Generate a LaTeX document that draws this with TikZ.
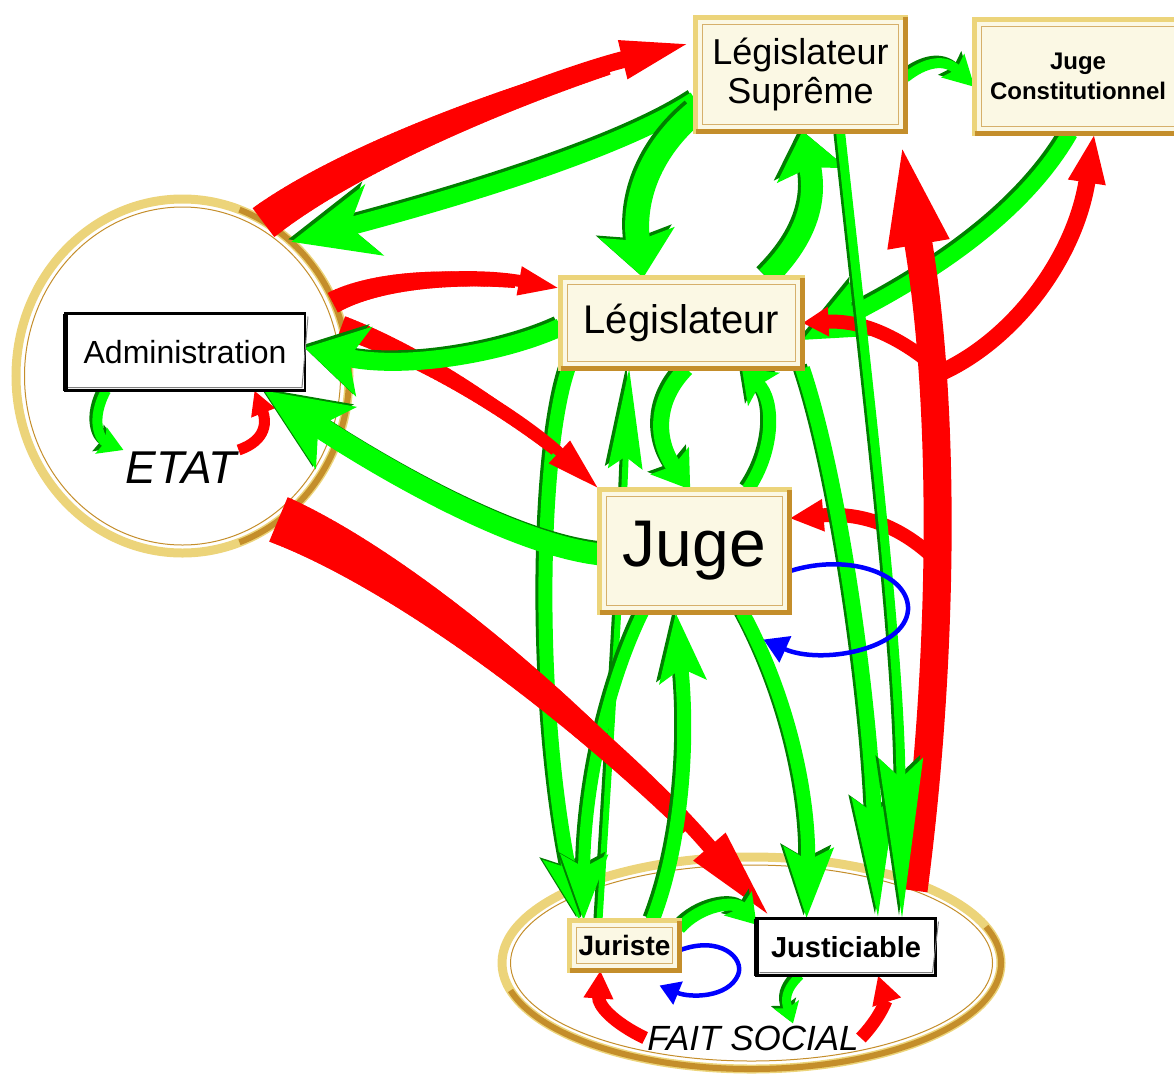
\documentclass[tikz,border=0pt]{standalone}
\usepackage{fontspec}
\setmainfont{Liberation Sans}
\usetikzlibrary{arrows.meta, calc, shapes.geometric, decorations.markings}
\pgfdeclarelayer{fond}
\pgfdeclarelayer{fleches}
\pgfsetlayers{fond,fleches,main}

\begin{document}
\begin{tikzpicture}[x=1pt, y=-1pt]
        % couleurs
        \colorlet{rouge}{red}
        \colorlet{vert}{green}
        \colorlet{vertfonce}{green!50!black}
        \colorlet{bleu}{blue}
        \definecolor{orclair}{RGB}{236,212,122}
        \definecolor{ordonce}{RGB}{196,142,43}
        \definecolor{creme}{RGB}{251,248,228}

        % styles communs
        \tikzset{
            cadre/.style={rectangle, fill=creme, draw=orclair, line width=5pt, outer sep=0pt, inner sep=0pt, align=center},
            cadrenoir/.style={rectangle, fill=white, draw=black, line width=2.5pt, outer sep=0pt, inner sep=0pt},
            anneau/.style={ellipse, draw=orclair, line width=9pt, outer sep=0pt},
            biseau/.style={draw=ordonce, line width=5pt},
            filet/.style={draw=ordonce!70, line width=1pt},
            fr/.style={draw=rouge, line width=#1, -{Triangle[length=0pt 3.2, width=0pt 2]}},
            fv/.style={draw=vert, line width=#1, preaction={draw=vertfonce, line width=#1, transform canvas={shift={(-3pt,2.5pt)}}}, -{Stealth[length=0pt 4, width=0pt 3.2, inset=0pt 1]}},
            fb/.style={draw=bleu, line width=4.5pt, -{Triangle[length=24pt, width=28pt]}},
            % queue evasee : largeur de depart, largeur du trait
            evase/.style 2 args={postaction={decorate, decoration={markings,
                mark=between positions 0 and 0.8 step 1.5pt with {
                    \pgfmathsetmacro{\fract}{\pgfkeysvalueof{/pgf/decoration/mark info/distance from start}/\pgfdecoratedpathlength}
                    \pgfmathsetmacro{\rayon}{#2/2+(#1-#2)/2*max(0,1-\fract/0.8)}
                    \fill[rouge] (-1.2pt,-\rayon pt) rectangle (1.2pt,\rayon pt);
                }}}}
        }

        \useasboundingbox (0,0) rectangle (1174,1082);

        % --- les deux anneaux (ETAT, FAIT SOCIAL) ---
        \begin{pgfonlayer}{fond}
            \node[anneau, minimum width=333pt, minimum height=354pt] (etatcercle) at (182.5,376) {};
            \draw[ordonce, line width=6pt] ([shift={(-70:166.5pt and 177pt)}]etatcercle.center) arc[start angle=-70, end angle=70, x radius=166.5pt, y radius=177pt];
            \draw[ordonce, line width=1pt] (etatcercle.center) ellipse [x radius=158pt, y radius=169pt];

            \node[anneau, minimum width=499pt, minimum height=212pt] (faitcercle) at (751.5,963) {};
            \draw[ordonce, line width=6pt] ([shift={(-165:249.5pt and 106pt)}]faitcercle.center) arc[start angle=-165, end angle=20, x radius=249.5pt, y radius=106pt];
            \draw[ordonce, line width=1pt] (faitcercle.center) ellipse [x radius=241pt, y radius=98pt];
        \end{pgfonlayer}

        % --- les cadres ---
        \node[cadre, minimum width=210pt, minimum height=114pt, font=\fontsize{36}{39}\selectfont] (sup) at (800.5,74) {Législateur\\Suprême};
        \node[cadre, minimum width=207pt, minimum height=114pt, font=\fontsize{24}{30}\selectfont\bfseries] (jc) at (1078,76) {Juge\\Constitutionnel};
        \node[cadre, minimum width=242pt, minimum height=91pt, font=\fontsize{40}{44}\selectfont] (leg) at (681.5,323) {Législateur};
        \node[cadre, minimum width=190pt, minimum height=123pt, font=\fontsize{66}{70}\selectfont] (juge) at (694.5,551) {Juge};
        \node[cadre, minimum width=110pt, minimum height=50pt, font=\fontsize{28}{30}\selectfont\bfseries] (juriste) at (624.5,945.5) {Juriste};
        \node[cadrenoir, minimum width=240pt, minimum height=77pt, font=\fontsize{32}{34}\selectfont] (admin) at (185,352) {Administration};
        \node[cadrenoir, minimum width=179pt, minimum height=57pt, font=\fontsize{29}{30}\selectfont\bfseries] (justic) at (846,947) {Justiciable};
        \node[inner sep=2pt, font=\fontsize{46}{50}\selectfont\itshape] (etat) at (181,468) {ETAT};
        \node[inner sep=2pt, font=\fontsize{35}{40}\selectfont\itshape] (fait) at (753,1038) {FAIT SOCIAL};

        \foreach \n in {sup, jc, leg, juge, juriste} {
            \draw[biseau] (\n.south west) -- (\n.south east) -- (\n.north east);
            \draw[filet] ([shift={(7pt,-7pt)}]\n.north west) rectangle ([shift={(-7pt,7pt)}]\n.south east);
        }
        \foreach \n in {admin, justic} {
            \draw[line width=5pt] (\n.north west) -- (\n.south west);
            \draw[gray, line width=1pt] ([shift={(3pt,-3pt)}]\n.north east) -- ([shift={(-3pt,3pt)}]\n.south east) -- ([shift={(3pt,3pt)}]\n.south west);
        }

        % points de branchement sur le tronc rouge
        \coordinate (branche1) at (929,362);
        \coordinate (branche2) at (933,376);
        \coordinate (branche3) at (936,560);

        \begin{pgfonlayer}{fleches}
            % verts sous le rouge
            \draw[fv=16pt, -{Stealth[length=70pt, width=60pt, inset=15pt]}] (jc.-98) .. controls (1020,220) and (920,280) .. (leg.-8);
            \draw[fv=14pt, -{Stealth[length=65pt, width=46pt, inset=12pt]}] ([xshift=8pt]leg.south west) .. controls (540,450) and (535,700) .. ([xshift=10pt]juriste.north west);
            \draw[fv=6pt, -{Stealth[length=100pt, width=34pt, inset=12pt]}] ([xshift=30pt]juriste.north west) .. controls (610,750) and (620,600) .. (leg.-139);
            \draw[fv=12pt, -{Stealth[length=65pt, width=46pt, inset=12pt]}] (juge.-130) .. controls (610,680) and (585,780) .. ([xshift=14pt]juriste.north west);

            % --- rouge ---
            \draw[fr=17pt, evase={36}{17}, -{Triangle[length=75pt, width=34pt]}] (etatcercle.62) .. controls (360,150) and (560,75) .. (sup.163);
            \draw[fr=12pt, evase={22}{12}, -{Triangle[length=42pt, width=26pt]}] (etatcercle.26) .. controls (380,278) and (470,272) .. (leg.164);
            \draw[fr=10pt, evase={22}{10}, -{Triangle[length=55pt, width=28pt]}] (etatcercle.17) .. controls (420,355) and (520,415) .. (juge.north west);
            \draw[fr=15pt, evase={48}{15}, -{Triangle[length=95pt, width=38pt]}] (etatcercle.-56) .. controls (400,570) and (600,720) .. ([xshift=15pt]justic.north west);
            \draw[fr=28pt, -{Triangle[length=115pt, width=52pt]}] ([xshift=-22pt,yshift=28pt]justic.north east) .. controls (945,650) and (945,400) .. (sup.-30);
            \draw[fr=14pt, -{Triangle[length=26pt, width=28pt]}] (branche1) .. controls (895,335) and (860,320) .. (leg.east);
            \draw[fr=17pt, -{Triangle[length=50pt, width=34pt]}] (branche2) .. controls (1010,345) and (1075,260) .. (jc.-74);
            \draw[fr=14pt, -{Triangle[length=34pt, width=30pt]}] (branche3) .. controls (900,525) and (860,512) .. (juge.19);
            \draw[fr=11pt, -{Triangle[length=24pt, width=24pt]}] (etat.north east) .. controls (268,440) and (266,420) .. (admin.-29);
            \draw[fr=13pt, -{Triangle[length=28pt, width=28pt]}] (fait.west) .. controls (612,1022) and (598,1005) .. (juriste.-134);
            \draw[fr=13pt, -{Triangle[length=28pt, width=28pt]}] (fait.east) .. controls (880,1018) and (886,1000) .. ([xshift=32pt]justic.south);

            % --- vert ---
            \draw[fv=18pt, -{Stealth[length=85pt, width=72pt, inset=25pt]}] (sup.194) .. controls (620,150) and (450,200) .. (etatcercle.51);
            \draw[fv=24pt, -{Stealth[length=45pt, width=75pt, inset=8pt]}] (sup.200) .. controls (650,150) and (632,200) .. (leg.130);
            \draw[fv=22pt, -{Stealth[length=45pt, width=70pt, inset=8pt]}] (leg.28) .. controls (815,230) and (815,190) .. (sup.-88);
            \draw[fv=10pt, -{Stealth[length=30pt, width=32pt, inset=5pt]}] (sup.-2) .. controls (925,62) and (945,58) .. (jc.186);
            \draw[fv=18pt, -{Stealth[length=60pt, width=70pt, inset=15pt]}] (leg.182) .. controls (500,355) and (400,370) .. (admin.2);
            \draw[fv=22pt, -{Stealth[length=85pt, width=72pt, inset=20pt]}] (juge.182) .. controls (520,545) and (400,480) .. (admin.-26);
            \draw[fv=16pt, -{Stealth[length=35pt, width=46pt, inset=6pt]}] (leg.-84) .. controls (655,400) and (655,440) .. (juge.94);
            \draw[fv=13pt, -{Stealth[length=30pt, width=45pt, inset=6pt]}] (juge.49) .. controls (775,450) and (775,400) .. (leg.-37);
            \draw[fv=15pt, -{Stealth[length=120pt, width=42pt, inset=15pt]}] (leg.south east) .. controls (840,480) and (870,700) .. ([xshift=32pt]justic.north);
            \draw[fv=9pt, -{Stealth[length=160pt, width=44pt, inset=20pt]}] (sup.-55) .. controls (870,400) and (900,650) .. ([xshift=56pt]justic.north);
            \draw[fv=14pt, -{Stealth[length=68pt, width=45pt, inset=12pt]}] ([xshift=28pt]juriste.north) .. controls (680,850) and (690,750) .. (juge.-107);
            \draw[fv=14pt, -{Stealth[length=70pt, width=48pt, inset=12pt]}] (juge.-52) .. controls (790,700) and (810,800) .. ([xshift=50pt]justic.north west);
            \draw[fv=12pt, -{Stealth[length=28pt, width=36pt, inset=5pt]}] (juriste.17) .. controls (700,905) and (735,900) .. (justic.166);
            \draw[fv=9pt, -{Stealth[length=20pt, width=26pt, inset=4pt]}] ([xshift=-46pt]justic.south) .. controls (785,990) and (785,1000) .. ([xshift=40pt]fait.north);
            \draw[fv=10pt, -{Stealth[length=24pt, width=28pt, inset=4pt]}] (admin.-154) .. controls (90,420) and (100,440) .. (etat.north west);

            % --- bleu (boucles) ---
            \draw[fb] (juge.-12) .. controls (850,552) and (910,575) .. (908,610) .. controls (905,650) and (820,665) .. ($(juge.south east)+(-26,27)$);
            \draw[fb, -{Triangle[length=20pt, width=24pt]}] (juriste.-5) .. controls (720,935) and (745,958) .. (738,975) .. controls (728,998) and (690,998) .. ($(juriste.south east)+(-20,15)$);
        \end{pgfonlayer}
\end{tikzpicture}
\end{document}
